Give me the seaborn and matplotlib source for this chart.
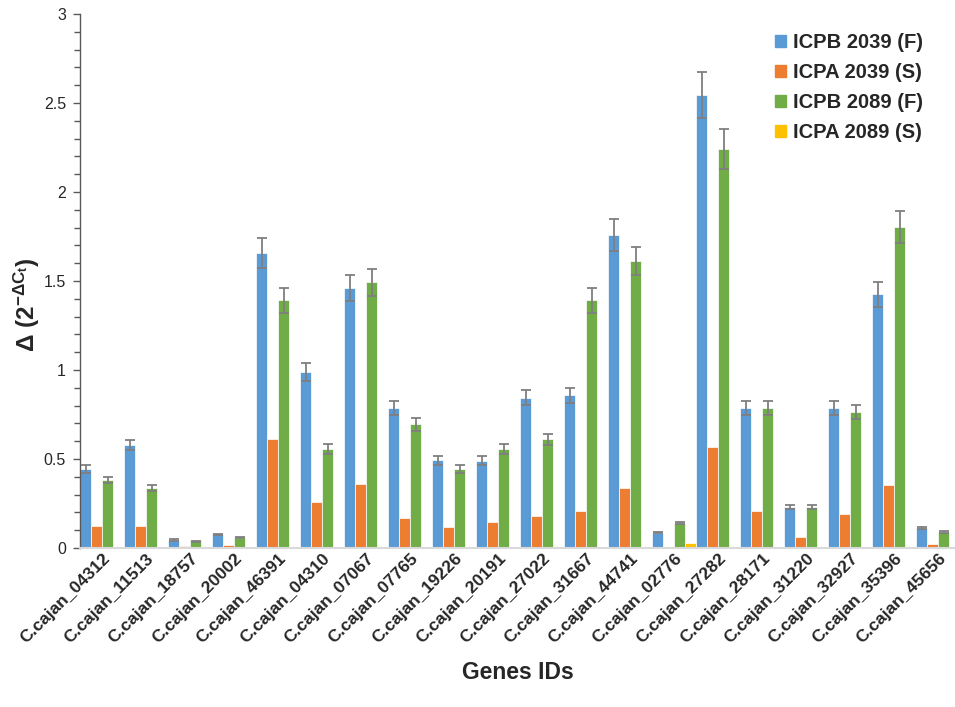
import matplotlib
matplotlib.use("Agg")
import matplotlib.pyplot as plt
import seaborn as sns
import pandas as pd
import numpy as np
from matplotlib.ticker import MultipleLocator, FuncFormatter

genes = ["C.cajan_04312", "C.cajan_11513", "C.cajan_18757", "C.cajan_20002", "C.cajan_46391",
         "C.cajan_04310", "C.cajan_07067", "C.cajan_07765", "C.cajan_19226", "C.cajan_20191",
         "C.cajan_27022", "C.cajan_31667", "C.cajan_44741", "C.cajan_02776", "C.cajan_27282",
         "C.cajan_28171", "C.cajan_31220", "C.cajan_32927", "C.cajan_35396", "C.cajan_45656"]

series = ["ICPB 2039 (F)", "ICPA 2039 (S)", "ICPB 2089 (F)", "ICPA 2089 (S)"]

icpb_2039 = [0.444, 0.579, 0.045, 0.077, 1.656, 0.990, 1.461, 0.785, 0.494, 0.491,
             0.843, 0.858, 1.758, 0.086, 2.545, 0.786, 0.230, 0.786, 1.426, 0.110]
icpa_2039 = [0.124, 0.124, 0.010, 0.015, 0.612, 0.258, 0.360, 0.167, 0.120, 0.146,
             0.182, 0.206, 0.337, 0.000, 0.569, 0.208, 0.060, 0.189, 0.354, 0.024]
icpb_2089 = [0.382, 0.339, 0.038, 0.058, 1.391, 0.558, 1.493, 0.695, 0.442, 0.554,
             0.610, 1.393, 1.612, 0.140, 2.242, 0.788, 0.230, 0.764, 1.806, 0.092]
icpa_2089 = [0.000, 0.000, 0.003, 0.000, 0.003, 0.000, 0.000, 0.000, 0.000, 0.000,
             0.000, 0.000, 0.000, 0.026, 0.000, 0.000, 0.000, 0.000, 0.000, 0.000]

err_icpb_2039 = [0.022, 0.029, 0.003, 0.004, 0.083, 0.050, 0.073, 0.039, 0.025, 0.025,
                 0.042, 0.043, 0.088, 0.004, 0.127, 0.039, 0.012, 0.039, 0.071, 0.006]
err_icpb_2089 = [0.019, 0.017, 0.002, 0.003, 0.070, 0.028, 0.075, 0.035, 0.022, 0.028,
                 0.031, 0.070, 0.081, 0.007, 0.112, 0.039, 0.012, 0.038, 0.090, 0.005]

colors = ["#5B9BD5", "#ED7D31", "#70AD47", "#FFC000"]

df = pd.DataFrame({
    "gene": genes * 4,
    "series": sum([[s] * len(genes) for s in series], []),
    "value": icpb_2039 + icpa_2039 + icpb_2089 + icpa_2089,
})

sns.set_style("white")
plt.rcParams["font.family"] = ["Liberation Sans", "DejaVu Sans"]
plt.rcParams["mathtext.fontset"] = "custom"
plt.rcParams["mathtext.rm"] = "Liberation Sans:bold"
plt.rcParams["mathtext.it"] = "Liberation Sans:bold"
plt.rcParams["mathtext.bf"] = "Liberation Sans:bold"

W, H = 955, 707
fig = plt.figure(figsize=(W / 100, H / 100), dpi=100)
ax = fig.add_axes([80 / W, (H - 548) / H, 875 / W, 534 / H])

sns.barplot(data=df, x="gene", y="value", hue="series", hue_order=series,
            palette=colors, saturation=1, width=1.0, errorbar=None, ax=ax,
            edgecolor="white", linewidth=0.5, legend=True)

errs = {0: err_icpb_2039, 2: err_icpb_2089}
for idx, cont in enumerate(ax.containers):
    if idx in errs:
        xs = [p.get_x() + p.get_width() / 2 for p in cont]
        ys = [p.get_height() for p in cont]
        ax.errorbar(xs, ys, yerr=errs[idx], fmt="none", ecolor="#7F7F7F",
                    elinewidth=1.3, capsize=3.5, capthick=1.3, zorder=5)

ax.set_xlim(-0.5, 19.386)
ax.set_ylim(0, 3)
ax.yaxis.set_major_locator(MultipleLocator(0.5))
ax.yaxis.set_minor_locator(MultipleLocator(0.1))
ax.yaxis.set_major_formatter(FuncFormatter(lambda v, p: f"{v:g}"))

for s in ["top", "right"]:
    ax.spines[s].set_visible(False)
ax.spines["left"].set_color("#595959")
ax.spines["left"].set_linewidth(1.0)
ax.spines["bottom"].set_color("#D9D9D9")
ax.spines["bottom"].set_linewidth(1.5)

ax.tick_params(axis="y", which="both", direction="out", left=True, color="#595959",
               labelsize=11.5, width=1.0)
ax.tick_params(axis="y", which="major", length=5, pad=5)
ax.tick_params(axis="y", which="minor", length=4)
ax.tick_params(axis="x", length=0, pad=2)

ax.set_xticks(range(len(genes)))
ax.set_xticklabels(genes, rotation=45, ha="right", rotation_mode="anchor",
                   fontsize=12.5, fontweight="bold")

ax.set_xlabel("Genes IDs", fontsize=16.5, fontweight="bold", labelpad=11)
ax.set_ylabel(r"$\Delta\ (2^{-\Delta C_t})$", fontsize=17.5, fontweight="bold")
ax.yaxis.set_label_coords(-0.044, 0.455)

ax.legend_.remove()
handles = [plt.Rectangle((0, 0), 1, 1, color=c) for c in colors]
fig.legend(handles, series, loc="upper left", bbox_to_anchor=(757 / W, 1 - 15 / H),
           frameon=False, prop={"weight": "bold", "size": 14.5},
           handlelength=0.55, handleheight=0.55, handletextpad=0.35, labelspacing=0.55)

fig.savefig("out.png", dpi=100)
